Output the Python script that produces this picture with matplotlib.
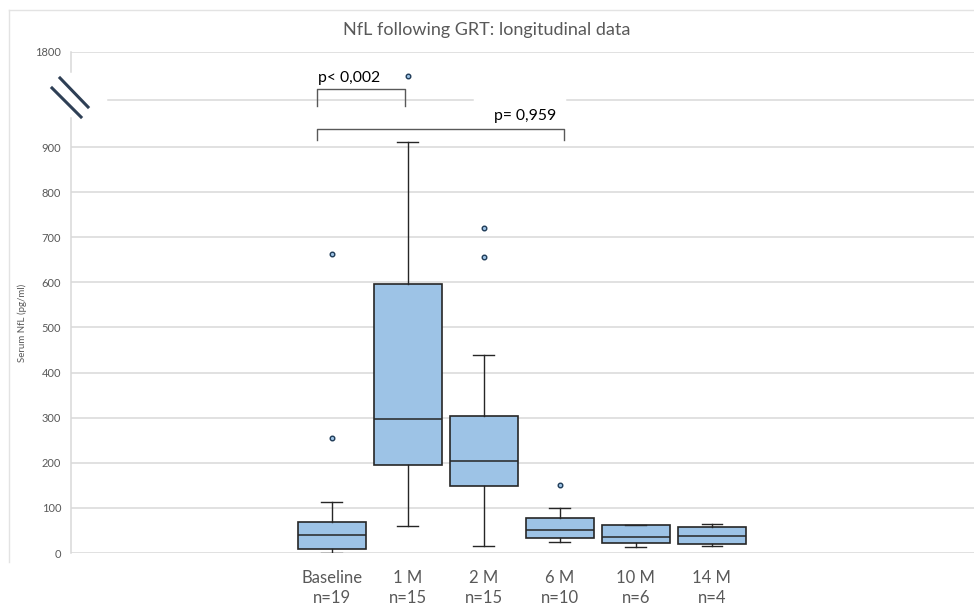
import numpy as np
import matplotlib
matplotlib.use("Agg")
import matplotlib.pyplot as plt
from matplotlib.transforms import blended_transform_factory

plt.rcParams['font.family'] = ['Lato', 'DejaVu Sans']

# data (pg/ml)
groups = ["Baseline", "1 M", "2 M", "6 M", "10 M", "14 M"]
n_counts = [19, 15, 15, 10, 6, 4]
medians = [39, 297, 204, 50, 35, 38]
q1s = [8, 195, 148, 33, 22, 19]
q3s = [68, 596, 304, 77, 61, 58]
whis_lo = [1, 60, 16, 24, 13, 15]
whis_hi = [112, 911, 440, 100, 62, 64]
outliers = [[256, 663], [1570], [657, 720], [150], [], []]

p_labels = ["p< 0,002", "p= 0,959"]

# broken axis: piecewise-linear squeeze above ~930
real_knots = [0, 930, 1350, 1800]
disp_knots = [0, 930, 1005, 1110.6]


def fwd(y):
    return np.interp(y, real_knots, disp_knots)


def inv(d):
    return np.interp(d, disp_knots, real_knots)


W, H = 974, 613
fig = plt.figure(figsize=(W / 100, H / 100), dpi=100)
ax = fig.add_axes([71 / W, (H - 553) / H, (974 - 71) / W, (553 - 52) / H])
ax.set_yscale('function', functions=(fwd, inv))

stats = []
for i in range(len(groups)):
    stats.append(dict(med=medians[i], q1=q1s[i], q3=q3s[i],
                      whislo=whis_lo[i], whishi=whis_hi[i],
                      fliers=outliers[i], label=f"{groups[i]}\nn={n_counts[i]}"))

pos = np.arange(len(groups))
edge = '#262626'
ax.bxp(stats, positions=pos, widths=0.9, capwidths=0.27, patch_artist=True,
       boxprops=dict(facecolor='#9dc3e6', edgecolor=edge, linewidth=1.2),
       medianprops=dict(color=edge, linewidth=1.1),
       whiskerprops=dict(color=edge, linewidth=1.0),
       capprops=dict(color=edge, linewidth=1.0),
       flierprops=dict(marker='o', markersize=3.3, markerfacecolor='#9dc3e6',
                       markeredgecolor='#1f3b57', markeredgewidth=1.0),
       zorder=3)

ax.set_xlim(-3.43, 8.45)
ax.set_ylim(0, 1800)

grid_c = '#d9d9d9'
ax.set_yticks(list(range(0, 1000, 100)) + [1800])
ax.yaxis.grid(True, color=grid_c, linewidth=1.1)
ax.set_axisbelow(True)
ax.tick_params(axis='y', length=0, pad=7, labelsize=8, labelcolor='#595959')
ax.tick_params(axis='x', length=0, pad=12, labelsize=12, labelcolor='#595959')
for lab in ax.get_xticklabels():
    lab.set_linespacing(1.35)
for s in ax.spines.values():
    s.set_visible(False)

# mid gridline of the squeezed section, with a gap behind the p-label
ax.plot([-2.94, 1.86], [1350, 1350], color=grid_c, lw=1.1, zorder=0)
ax.plot([3.09, 8.45], [1350, 1350], color=grid_c, lw=1.1, zorder=0)

# left axis line, interrupted at the break
bt = blended_transform_factory(ax.transAxes, ax.transData)
ax.plot([0, 0], [0, 1120], color=grid_c, lw=1.1, transform=bt, clip_on=False)
ax.plot([0, 0], [1610, 1800], color=grid_c, lw=1.1, transform=bt, clip_on=False)

# break marks (figure pixels)
ft = fig.transFigure
for (x0, y0, x1, y1) in [(60, 78, 88, 107), (52, 88, 81, 117)]:
    fig.add_artist(plt.Line2D([x0 / W, x1 / W], [1 - y0 / H, 1 - y1 / H],
                              color='#2e3f55', lw=2.2, transform=ft))

ax.set_ylabel("Serum NfL (pg/ml)", fontsize=7, color='#595959')
ax.yaxis.set_label_coords((27 - 71) / (974 - 71), 0.46)

fig.text(487 / W, 1 - 30 / H, "NfL following GRT: longitudinal data",
         ha='center', va='center', fontsize=13, color='#595959')

# significance brackets
bc = '#595959'
ax.plot([-0.19, -0.19, 0.97, 0.97], [1270, 1450, 1450, 1270], color=bc, lw=1.0,
        solid_joinstyle='round', clip_on=False)
ax.plot([-0.19, -0.19, 3.06, 3.06], [915, 989, 989, 915], color=bc, lw=1.0,
        solid_joinstyle='round', clip_on=False)
ax.text(0.23, 1550, p_labels[0], ha='center', va='center', fontsize=11.3, color='black')
ax.text(2.55, 1142, p_labels[1], ha='center', va='center', fontsize=11.3, color='black')

# chart-area frame (top and left edges visible in the crop)
fig.add_artist(plt.Line2D([9 / W, 1], [1 - 10 / H, 1 - 10 / H], color='#e3e3e3', lw=1.0, transform=ft))
fig.add_artist(plt.Line2D([9 / W, 9 / W], [1 - 10 / H, 1 - 562 / H], color='#e3e3e3', lw=1.0, transform=ft))

fig.savefig("out.png", dpi=100)
